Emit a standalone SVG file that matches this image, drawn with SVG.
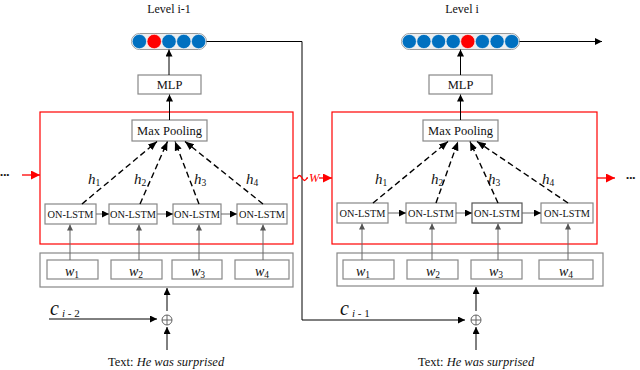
<svg xmlns="http://www.w3.org/2000/svg" width="640" height="370" viewBox="0 0 640 370" font-family="'Liberation Serif', Tinos, 'DejaVu Serif', 'Noto Serif', serif">
<defs>
<marker id="ab" viewBox="0 0 10 10" refX="10" refY="5" markerWidth="7" markerHeight="7" markerUnits="userSpaceOnUse" orient="auto"><path d="M0,0 L10,5 L0,10 z" fill="#000"/></marker>
<marker id="ag" viewBox="0 0 10 10" refX="10" refY="5" markerWidth="6" markerHeight="6" markerUnits="userSpaceOnUse" orient="auto"><path d="M0,0 L10,5 L0,10 z" fill="#555"/></marker>
<marker id="ar" viewBox="0 0 10 10" refX="10" refY="5" markerWidth="9" markerHeight="9" markerUnits="userSpaceOnUse" orient="auto"><path d="M0,0 L10,5 L0,10 z" fill="#f00"/></marker>
<marker id="ad" viewBox="0 0 10 10" refX="10" refY="5" markerWidth="9" markerHeight="9" markerUnits="userSpaceOnUse" orient="auto"><path d="M0,1 L10,5 L0,9 z" fill="#000"/></marker>
</defs>
<style>
text{font-family:'Liberation Serif',Tinos,'DejaVu Serif','Noto Serif',serif;fill:#111}
.box{fill:#fff;stroke:#888;stroke-width:1.2}
.red{fill:none;stroke:#f00;stroke-width:1.2}
.ln{fill:none;stroke:#000;stroke-width:1}
.gl{fill:none;stroke:#666;stroke-width:1}
.dash{fill:none;stroke:#000;stroke-width:1.4;stroke-dasharray:6,3.5}
.rl{fill:none;stroke:#f00;stroke-width:1.3}
.bl{fill:#0070c0;stroke:#fff;stroke-width:0.6}
.rd{fill:#f00;stroke:#fff;stroke-width:0.6}
.cap{fill:#eee;stroke:#999;stroke-width:1}
.it{font-style:italic}
.lbl{font-size:12.5px;text-anchor:middle}
.ons{font-size:10.3px;text-anchor:middle}
.h{font-size:15px;font-style:italic}
.w{font-size:14px;font-style:italic}
.sub{font-size:9.5px;font-style:normal}
</style>

<g id="left-level">
<text x="169" y="13" font-size="12" text-anchor="middle">Level i-1</text>
<rect class="cap" x="131.5" y="33.5" width="75" height="16" rx="8"/>
<circle class="bl" cx="139.4" cy="41.5" r="7.2"/>
<circle class="rd" cx="154.2" cy="41.5" r="7.2"/>
<circle class="bl" cx="169" cy="41.5" r="7.2"/>
<circle class="bl" cx="183.8" cy="41.5" r="7.2"/>
<circle class="bl" cx="198.6" cy="41.5" r="7.2"/>
</g>
<g id="left-mlp"><rect class="box" x="138" y="75" width="63" height="19"/><text class="lbl" x="169.5" y="89">MLP</text></g>
<g id="left-red"><rect class="red" x="40" y="112" width="253" height="132"/></g>
<g id="left-maxpool"><rect class="box" x="132" y="120" width="75" height="21"/><text class="lbl" x="169.5" y="135">Max Pooling</text></g>
<g id="left-lstm1"><rect class="box" x="45" y="204" width="51" height="20"/><text class="ons" x="70.5" y="218">ON-LSTM</text></g>
<g id="left-lstm2"><rect class="box" x="109" y="204" width="48" height="20"/><text class="ons" x="133" y="218">ON-LSTM</text></g>
<g id="left-lstm3"><rect class="box" x="173" y="204" width="48" height="20"/><text class="ons" x="197" y="218">ON-LSTM</text></g>
<g id="left-lstm4"><rect class="box" x="237" y="204" width="50" height="20"/><text class="ons" x="262" y="218">ON-LSTM</text></g>
<g id="left-words">
<rect class="box" x="40" y="253" width="253" height="34"/>
<rect class="box" x="47" y="260" width="51" height="19"/><text class="w" x="65" y="276">w<tspan class="sub" dy="2">1</tspan></text>
<rect class="box" x="111" y="260" width="51" height="19"/><text class="w" x="129" y="276">w<tspan class="sub" dy="2">2</tspan></text>
<rect class="box" x="172" y="260" width="50" height="19"/><text class="w" x="191" y="276">w<tspan class="sub" dy="2">3</tspan></text>
<rect class="box" x="235" y="260" width="54" height="19"/><text class="w" x="255" y="276">w<tspan class="sub" dy="2">4</tspan></text>
</g>
<g id="left-plus"><circle cx="167" cy="320" r="5" fill="none" stroke="#555" stroke-width="0.9"/><path d="M162,320 H172 M167,315 V325" stroke="#555" stroke-width="0.9"/></g>
<g id="left-text"><text x="108" y="366" font-size="12.5">Text:  <tspan class="it">He was surprised</tspan></text></g>
<g id="left-labels">
<text class="h" x="88" y="184">h<tspan class="sub" dy="2">1</tspan></text>
<text class="h" x="134" y="184">h<tspan class="sub" dy="2">2</tspan></text>
<text class="h" x="194" y="184">h<tspan class="sub" dy="2">3</tspan></text>
<text class="h" x="246" y="184">h<tspan class="sub" dy="2">4</tspan></text>
<text x="50" y="315" font-size="20" class="it">c</text><text x="62" y="317" font-size="11"><tspan class="it">i</tspan> - 2</text>
<text x="0" y="178" font-size="9" fill="#666">•••</text>
</g>

<g id="right-level">
<text x="462" y="13" font-size="12" text-anchor="middle">Level i</text>
<rect class="cap" x="401.5" y="33.5" width="118" height="16" rx="8"/>
<circle class="bl" cx="409.3" cy="41.5" r="7.1"/>
<circle class="bl" cx="423.9" cy="41.5" r="7.1"/>
<circle class="bl" cx="438.6" cy="41.5" r="7.1"/>
<circle class="bl" cx="453.2" cy="41.5" r="7.1"/>
<circle class="rd" cx="467.8" cy="41.5" r="7.1"/>
<circle class="bl" cx="482.4" cy="41.5" r="7.1"/>
<circle class="bl" cx="497.1" cy="41.5" r="7.1"/>
<circle class="bl" cx="511.7" cy="41.5" r="7.1"/>
</g>
<g id="right-mlp"><rect class="box" x="429" y="75" width="63" height="19"/><text class="lbl" x="460.5" y="89">MLP</text></g>
<g id="right-red"><rect class="red" x="332" y="112" width="265" height="132"/></g>
<g id="right-maxpool"><rect class="box" x="423" y="120" width="75" height="21"/><text class="lbl" x="460.5" y="135">Max Pooling</text></g>
<g id="right-lstm1"><rect class="box" x="337" y="203" width="51" height="20"/><text class="ons" x="362.5" y="217">ON-LSTM</text></g>
<g id="right-lstm2"><rect class="box" x="406" y="203" width="50" height="20"/><text class="ons" x="431" y="217">ON-LSTM</text></g>
<g id="right-lstm3"><rect class="box" x="472" y="203" width="50" height="20" style="stroke:#555"/><text class="ons" x="497" y="217">ON-LSTM</text></g>
<g id="right-lstm4"><rect class="box" x="541" y="203" width="52" height="20"/><text class="ons" x="567" y="217">ON-LSTM</text></g>
<g id="right-words">
<rect class="box" x="337" y="253" width="266" height="33"/>
<rect class="box" x="343" y="260" width="51" height="19"/><text class="w" x="356" y="276">w<tspan class="sub" dy="2">1</tspan></text>
<rect class="box" x="407" y="260" width="51" height="19"/><text class="w" x="426" y="276">w<tspan class="sub" dy="2">2</tspan></text>
<rect class="box" x="471" y="260" width="51" height="19"/><text class="w" x="489" y="276">w<tspan class="sub" dy="2">3</tspan></text>
<rect class="box" x="539" y="260" width="54" height="19"/><text class="w" x="559" y="276">w<tspan class="sub" dy="2">4</tspan></text>
</g>
<g id="right-plus"><circle cx="476" cy="320" r="5" fill="none" stroke="#555" stroke-width="0.9"/><path d="M471,320 H481 M476,315 V325" stroke="#555" stroke-width="0.9"/></g>
<g id="right-text"><text x="418" y="366" font-size="12.5">Text:  <tspan class="it">He was surprised</tspan></text></g>
<g id="right-labels">
<text class="h" x="375" y="184">h<tspan class="sub" dy="2">1</tspan></text>
<text class="h" x="431" y="184">h<tspan class="sub" dy="2">2</tspan></text>
<text class="h" x="488" y="184">h<tspan class="sub" dy="2">3</tspan></text>
<text class="h" x="542" y="184">h<tspan class="sub" dy="2">4</tspan></text>
<text x="340" y="315" font-size="20" class="it">c</text><text x="352" y="317" font-size="11"><tspan class="it">i</tspan> - 1</text>
<text x="626" y="181" font-size="9" fill="#666">•••</text>
<text x="309" y="182" font-size="12.5" class="it" style="fill:#f00">W</text>
</g>

<g id="connectors">
<path class="ln" d="M169,75 V49.5" marker-end="url(#ab)"/>
<path class="ln" d="M169.5,120 V94.5" marker-end="url(#ab)"/>
<path class="ln" d="M460.5,75 V49.5" marker-end="url(#ab)"/>
<path class="ln" d="M460.5,120 V94.5" marker-end="url(#ab)"/>
<path class="ln" d="M206.5,41.5 H302 V320 H465" marker-end="url(#ab)"/>
<path class="ln" d="M519.5,41.5 H602" marker-end="url(#ab)"/>
<path class="ln" d="M49,319 H157" marker-end="url(#ab)"/>
<path class="gl" d="M96,214 H109" marker-end="url(#ab)"/>
<path class="gl" d="M157,214 H173" marker-end="url(#ab)"/>
<path class="gl" d="M221,214 H237" marker-end="url(#ab)"/>
<path class="gl" d="M388,213 H406" marker-end="url(#ab)"/>
<path class="gl" d="M456,213 H472" marker-end="url(#ab)"/>
<path class="gl" d="M522,213 H541" marker-end="url(#ab)"/>
<path class="dash" d="M82,204 L157,141.5" marker-end="url(#ad)"/>
<path class="dash" d="M140,204 L167.5,141.5" marker-end="url(#ad)"/>
<path class="dash" d="M199,204 L175,141.5" marker-end="url(#ad)"/>
<path class="dash" d="M263,204 L185,141.5" marker-end="url(#ad)"/>
<path class="dash" d="M373,203 L448,141.5" marker-end="url(#ad)"/>
<path class="dash" d="M436,203 L458,141.5" marker-end="url(#ad)"/>
<path class="dash" d="M498,203 L470,141.5" marker-end="url(#ad)"/>
<path class="dash" d="M568,203 L477,141.5" marker-end="url(#ad)"/>
<path class="gl" d="M70,260 V224.5" marker-end="url(#ag)"/>
<path class="gl" d="M139,260 V224.5" marker-end="url(#ag)"/>
<path class="gl" d="M199,260 V224.5" marker-end="url(#ag)"/>
<path class="gl" d="M263,260 V224.5" marker-end="url(#ag)"/>
<path class="gl" d="M362,260 V223.5" marker-end="url(#ag)"/>
<path class="gl" d="M432,260 V223.5" marker-end="url(#ag)"/>
<path class="gl" d="M498,260 V223.5" marker-end="url(#ag)"/>
<path class="gl" d="M568,260 V223.5" marker-end="url(#ag)"/>
<path class="ln" d="M167,311 V288" marker-end="url(#ab)"/>
<path class="ln" d="M167,350 V327" marker-end="url(#ab)"/>
<path class="ln" d="M476,311 V287" marker-end="url(#ab)"/>
<path class="ln" d="M476,350 V327" marker-end="url(#ab)"/>
<path class="rl" d="M22,175 H40" marker-end="url(#ar)"/>
<path class="rl" d="M293,178 H297 Q299.5,173 302,178 Q304.5,183 307,178 H308"/>
<path class="rl" d="M319,178 H332" marker-end="url(#ar)"/>
<path class="rl" d="M597,178 H615" marker-end="url(#ar)"/>
</g>
</svg>
